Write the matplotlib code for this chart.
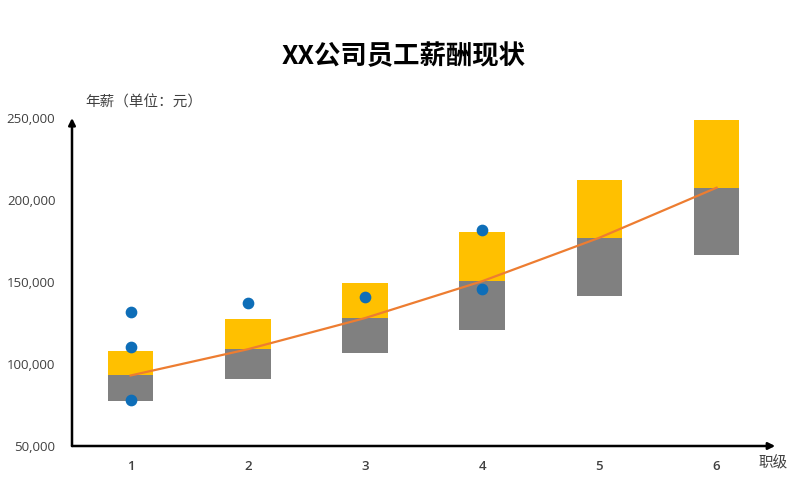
import numpy as np
import matplotlib.pyplot as plt

plt.rcParams['font.family'] = ['Noto Sans CJK SC', 'DejaVu Sans']

# salary bands per grade (yuan)
grades = [1, 2, 3, 4, 5, 6]
band_low = [77500, 91000, 107000, 120500, 141500, 166500]
band_mid = [93000, 109000, 128000, 150500, 177000, 207500]
band_high = [108000, 127500, 149500, 180500, 212000, 249000]

# individual employees
emp_grade = [1, 1, 1, 2, 3, 4, 4]
emp_salary = [132000, 110500, 78000, 137500, 141000, 182000, 145500]

fig = plt.figure(figsize=(8, 5), dpi=100)
ax = fig.add_axes([0.09, 0.108, 0.879, 0.656])

low = np.array(band_low)
mid = np.array(band_mid)
high = np.array(band_high)
ax.bar(grades, mid - low, bottom=low, width=0.39, color='#808080', zorder=2)
ax.bar(grades, high - mid, bottom=mid, width=0.39, color='#FFC000', zorder=2)
ax.plot(grades, band_mid, color='#ED7D31', lw=1.6, zorder=3)
ax.scatter(emp_grade, emp_salary, s=55, color='#0E6EB8', zorder=4)

ax.set_xlim(0.5, 6.5)
ax.set_ylim(50000, 250000)
ax.set_xticks(grades)
ax.set_yticks(np.arange(50000, 250001, 50000))
ax.yaxis.set_major_formatter(plt.FuncFormatter(lambda v, p: f'{int(v):,}'))
ax.tick_params(length=0, labelsize=9.5, colors='#404040')
ax.tick_params(axis='x', pad=10)
ax.tick_params(axis='y', pad=12)
for lab in ax.get_yticklabels():
    lab.set_family(['Open Sans', 'DejaVu Sans'])
for lab in ax.get_xticklabels():
    lab.set_family(['Open Sans', 'DejaVu Sans'])
    lab.set_fontweight('semibold')
for s in ax.spines.values():
    s.set_visible(False)

arrow = dict(arrowstyle='-|>', color='black', lw=1.8, mutation_scale=10,
             shrinkA=0, shrinkB=0)
ax.annotate('', xy=(1.0, 0), xytext=(0, 0), xycoords='axes fraction',
            arrowprops=arrow, annotation_clip=False)
ax.annotate('', xy=(0, 1.0), xytext=(0, 0), xycoords='axes fraction',
            arrowprops=arrow, annotation_clip=False)

fig.text(0.505, 0.886, 'XX公司员工薪酬现状', ha='center', va='center',
         fontsize=19, fontweight='bold', color='black')
fig.text(0.107, 0.794, '年薪（单位：元）', ha='left', va='center',
         fontsize=10.5, color='#404040')
fig.text(0.967, 0.073, '职级', ha='center', va='center',
         fontsize=10.5, color='#404040')

fig.savefig('out.png', dpi=100)
